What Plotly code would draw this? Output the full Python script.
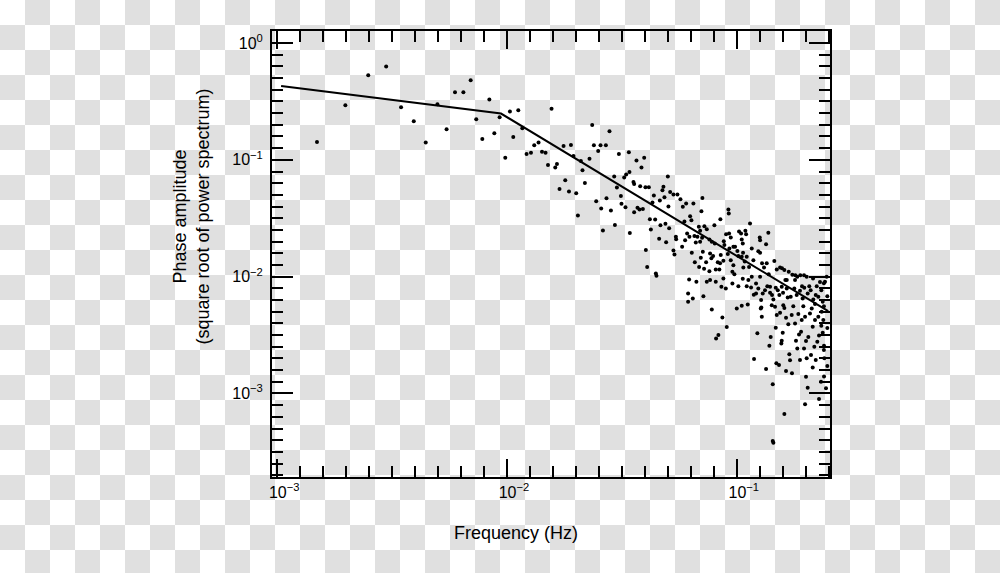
import plotly.graph_objects as go

# ---------------- data ----------------
freq = [
    1.49e-3, 1.98e-3, 2.49e-3, 2.98e-3, 3.46e-3, 3.93e-3, 4.43e-3, 4.98e-3, 5.46e-3, 5.94e-3,
    6.46e-3, 6.95e-3, 7.35e-3, 7.81e-3, 8.38e-3, 8.81e-3, 9.29e-3, 9.83e-3, 0.0103, 0.01065,
    0.0112, 0.01166, 0.01217, 0.01272, 0.01314, 0.01372, 0.0142, 0.01472, 0.01508, 0.01563,
    0.01622, 0.0165, 0.01693, 0.01763, 0.01793, 0.01861, 0.01898, 0.01948, 0.02001, 0.02035,
    0.02097, 0.02131, 0.02183, 0.02286, 0.02349, 0.02389, 0.02445, 0.02494, 0.02553, 0.0257,
    0.02615, 0.02694, 0.0271, 0.02793, 0.02833, 0.02928, 0.02949, 0.03008, 0.03069, 0.03131,
    0.0315, 0.03236, 0.03278, 0.03301, 0.03391, 0.03412, 0.03425, 0.03551, 0.03576, 0.03576,
    0.0366, 0.03697, 0.03772, 0.03799, 0.03848, 0.03903, 0.03954, 0.04005, 0.04021, 0.04074,
    0.04144, 0.04186, 0.04228, 0.04296, 0.04357, 0.04414, 0.04445, 0.04472, 0.04594, 0.04626,
    0.04654, 0.04748, 0.04796, 0.04844, 0.04893, 0.04927, 0.05012, 0.05042, 0.05078, 0.05129,
    0.05301, 0.05301, 0.05355, 0.05431, 0.05447, 0.05518, 0.05686, 0.05783, 0.05823, 0.05918,
    0.05959, 0.0602, 0.0608, 0.06203, 0.06222, 0.06266, 0.06347, 0.06372, 0.06475, 0.06541,
    0.06567, 0.06633, 0.06673, 0.06741, 0.06836, 0.06857,
    0.07087, 0.07016, 0.07229, 0.07405, 0.0799, 0.08485, 0.09194, 0.0923, 0.1142, 0.1372,
    0.06925, 0.07065, 0.07601, 0.07785, 0.08022, 0.0878, 0.08985, 0.09259, 0.09417, 0.1023,
    0.1044, 0.109, 0.1098, 0.1051, 0.1062, 0.1259, 0.1263, 0.1341, 0.06974, 0.07115,
    0.07207, 0.07354, 0.07601, 0.07755, 0.07889, 0.08102, 0.08266, 0.084, 0.08518, 0.08744,
    0.08833, 0.0914, 0.09286, 0.09417, 0.09665, 0.0983, 0.0957, 0.09763, 0.1006, 0.1016,
    0.1051, 0.1065, 0.1083, 0.1105, 0.1131, 0.1162, 0.1181, 0.1241, 0.1263, 0.1288,
    0.1314, 0.135, 0.1377, 0.1457, 0.1493, 0.1543, 0.1574, 0.1611, 0.165, 0.1683,
    0.1745, 0.1798, 0.1834, 0.189, 0.1962, 0.2015, 0.2147, 0.06141, 0.06141, 0.06436,
    0.07157, 0.07405, 0.07654, 0.08102, 0.0857, 0.08744, 0.08958, 0.0957, 0.1016, 0.1062,
    0.1105, 0.1123, 0.1154, 0.1186, 0.1213, 0.1213, 0.1241, 0.1276, 0.1279, 0.1297,
    0.1327, 0.1358, 0.1396, 0.1424, 0.1443, 0.1478, 0.1508, 0.1532, 0.1569, 0.159,
    0.165, 0.1666, 0.1717, 0.178, 0.1823, 0.1884, 0.1936, 0.1967, 0.2035, 0.2097,
    0.2153, 0.2206, 0.2264, 0.2333, 0.2366, 0.2421, 0.2462, 0.07785, 0.08657, 0.09047,
    0.08128, 0.08318, 0.1, 0.1051, 0.1116, 0.1272, 0.1285, 0.1229, 0.1189, 0.1341,
    0.1386, 0.1405, 0.1478, 0.1487, 0.1527, 0.1569, 0.1563, 0.1585, 0.1611, 0.1638,
    0.1693, 0.1705, 0.1739, 0.181, 0.1834, 0.1866, 0.1904, 0.1884, 0.1962, 0.2001,
    0.2048, 0.2015, 0.2104, 0.214, 0.2175, 0.2206, 0.2241, 0.228, 0.2333, 0.2366,
    0.2397, 0.2404, 0.238, 0.2342, 0.2264, 0.219, 0.214, 0.2082, 0.1982, 0.1917,
    0.1853, 0.1793, 0.1734, 0.1676, 0.1638, 0.1543, 0.1493, 0.142, 0.2001, 0.2035,
    0.1982, 0.228, 0.2326, 0.2397, 0.1434, 0.1611, 0.1434, 0.1443,
    0.2394, 0.2477, 0.2394, 0.2477, 0.2445, 0.2477, 0.2394,
    0.1627, 0.1793, 0.1923, 0.2068, 0.2228, 0.2302, 0.219, 0.2119, 0.1948, 0.1762,
    0.1594, 0.1467, 0.1396, 0.1263, 0.1162, 0.1068, 0.09665, 0.08459, 0.07654, 0.06925,
]
amp = [
    0.142, 0.293, 0.529, 0.628, 0.282, 0.214, 0.141, 0.299, 0.183, 0.379,
    0.379, 0.480, 0.223, 0.151, 0.328, 0.169, 0.231, 0.104, 0.259, 0.157,
    0.266, 0.186, 0.112, 0.115, 0.133, 0.141, 0.117, 0.115, 0.0905, 0.273,
    0.0859, 0.0922, 0.0564, 0.131, 0.0669, 0.0536, 0.134, 0.108, 0.0518, 0.0334,
    0.0979, 0.0815, 0.0634, 0.102, 0.199, 0.133, 0.0443, 0.119, 0.133, 0.0383,
    0.0248, 0.133, 0.0469, 0.176, 0.0368, 0.072, 0.0277, 0.0579, 0.112, 0.0491,
    0.042, 0.0706, 0.0393, 0.0749, 0.116, 0.0788, 0.0236, 0.0647, 0.0622, 0.0356,
    0.0986, 0.0388, 0.0376, 0.0595, 0.0859, 0.038, 0.104, 0.0583, 0.0169, 0.0121,
    0.0583, 0.031, 0.0253, 0.0431, 0.0495, 0.0309, 0.01065, 0.01016, 0.0211, 0.0449,
    0.0276, 0.055, 0.0587, 0.0479, 0.0283, 0.0197, 0.072, 0.0399, 0.026, 0.0531,
    0.0505, 0.01675, 0.01548, 0.0219, 0.0209, 0.0505, 0.046, 0.018, 0.0396, 0.0297,
    0.0205, 0.0423, 0.0234, 0.00946, 0.0219, 0.0329, 0.0304, 0.016, 0.0423, 0.0223,
    0.0133, 0.0196, 0.00903, 0.0219, 0.0267, 0.0121,
    0.0472, 0.0363, 0.027, 0.0255, 0.0276, 0.031, 0.0376, 0.0347, 0.0285, 0.0237,
    0.0247, 0.0215, 0.0208, 0.0199, 0.0192, 0.0201, 0.0231, 0.0234, 0.0216, 0.0244,
    0.0234, 0.0247, 0.0231, 0.0208, 0.0192, 0.0216, 0.0205, 0.0189, 0.0145, 0.0163,
    0.0117, 0.0133, 0.0111, 0.0144, 0.015, 0.0115, 0.0133, 0.0115, 0.0153, 0.0137,
    0.0187, 0.0156, 0.0174, 0.0138, 0.018, 0.018, 0.011, 0.0105, 0.0166, 0.015,
    0.0148, 0.016, 0.0135, 0.0148, 0.0121, 0.0174, 0.0138, 0.0165, 0.016, 0.013,
    0.012, 0.013, 0.0105, 0.0136, 0.0115, 0.012, 0.0118, 0.0114, 0.00934, 0.011,
    0.0104, 0.0103, 0.00996, 0.0103, 0.0103, 0.01, 0.00965, 0.00718, 0.00609, 0.00651,
    0.00681, 0.00903, 0.00934, 0.00903, 0.00818, 0.00965, 0.00793, 0.00875, 0.00829, 0.00958,
    0.00829, 0.00934, 0.00809, 0.00699, 0.00875, 0.00718, 0.00793, 0.0063, 0.00545, 0.00718,
    0.00766, 0.00829, 0.00727, 0.00695, 0.00638, 0.00802, 0.00766, 0.00695, 0.00818, 0.00727,
    0.00793, 0.00664, 0.00672, 0.00793, 0.00695, 0.00756, 0.00651, 0.00802, 0.00718, 0.00766,
    0.00638, 0.00695, 0.00672, 0.00766, 0.00609, 0.00903, 0.00996, 0.00524, 0.00448, 0.0037,
    0.00296, 0.00316, 0.00535, 0.00563, 0.00578, 0.00535, 0.00453, 0.00327, 0.00197, 0.00162,
    0.00256, 0.00305, 0.00365, 0.00181, 0.00175, 0.00282, 0.00268, 0.00331, 0.00538, 0.00156,
    0.00217, 0.00192, 0.00149, 0.00282, 0.00243, 0.0032, 0.00337, 0.00193, 0.00243, 0.00281,
    0.00305, 0.002, 0.00213, 0.00167, 0.00251, 0.00193, 0.00277, 0.00314, 0.00379, 0.00331,
    0.00256, 0.002, 0.00425, 0.005, 0.00453, 0.00425, 0.00372, 0.00484, 0.00453, 0.00425,
    0.00478, 0.00398, 0.00469, 0.00392, 0.00444, 0.0049, 0.00469, 0.0057, 0.00139, 0.00112,
    0.000807, 0.000896, 0.00126, 0.0014, 0.0012, 0.000667, 0.000392, 0.000379,
    0.00559, 0.00363, 0.00235, 0.00172, 0.00111, 0.00681, 0.0088,
    0.00934, 0.00934, 0.00829, 0.00829, 0.00829, 0.00899, 0.00582, 0.00535, 0.00559, 0.00559,
    0.0057, 0.00552, 0.00818, 0.00996, 0.00996, 0.012, 0.01254, 0.013, 0.0158, 0.0199,
]

fit_freq = [1.04e-3, 9.42e-3, 0.25]
fit_amp = [0.429, 0.249, 0.00506]

x_tick_vals = [1e-3, 1e-2, 1e-1]
x_tick_text = ["10<sup>\u22123</sup>", "10<sup>\u22122</sup>", "10<sup>\u22121</sup>"]
y_tick_vals = [1, 0.1, 0.01, 0.001]
y_tick_text = ["10<sup>0</sup>", "10<sup>\u22121</sup>", "10<sup>\u22122</sup>", "10<sup>\u22123</sup>"]
x_minor_vals = [10 ** (-3 + k / 10) for k in range(1, 25) if k % 10]
y_minor_vals = [10 ** (-3.7 + k / 10) for k in range(0, 39) if (k - 7) % 10]

x_title = "Frequency (Hz)"
y_title = "Phase amplitude<br>(square root of power spectrum)"

# ---------------- layout geometry ----------------
W, H = 1000, 573
L, R, T, B = 272, 170, 31, 96
PW, PH = W - L - R, H - T - B


def pxx(x):
    return (x - L) / PW


def pxy(y):
    return (H - B - y) / PH


# checkerboard background (transparent-image look)
cells = []
for i in range(W // 25 + 1):
    for j in range(H // 25 + 1):
        if (i + j) % 2 == 1:
            x0, x1 = pxx(25 * i), pxx(25 * i + 25)
            y0, y1 = pxy(25 * j), pxy(25 * j + 25)
            cells.append(f"M{x0:.5f},{y0:.5f}H{x1:.5f}V{y1:.5f}H{x0:.5f}Z")

FONT = "Liberation Sans, Arial, Helvetica, sans-serif"

fig = go.Figure()
fig.add_trace(go.Scatter(x=freq, y=amp, mode="markers",
                         marker=dict(size=4, color="black", line=dict(width=0)),
                         showlegend=False, hoverinfo="x+y"))
fig.add_trace(go.Scatter(x=fit_freq, y=fit_amp, mode="lines",
                         line=dict(color="black", width=2),
                         showlegend=False, hoverinfo="skip"))

axis_common = dict(
    type="log", showgrid=False, zeroline=False,
    showline=True, linecolor="black", linewidth=2, mirror="ticks",
    ticks="inside", tickwidth=2, tickcolor="black",
    tickfont=dict(family=FONT, size=16, color="black"),
    tickmode="array",
)

fig.update_xaxes(**axis_common, range=[-3.0226, -0.5943],
                 tickvals=x_tick_vals, ticktext=x_tick_text, ticklen=18,
                 ticklabelshift=7,
                 minor=dict(tickvals=x_minor_vals, ticks="inside", ticklen=11,
                            tickwidth=2, tickcolor="black", showgrid=False))
fig.update_yaxes(**axis_common, range=[-3.715, 0.1027],
                 tickvals=y_tick_vals, ticktext=y_tick_text, ticklen=21,
                 ticklabelstandoff=4,
                 minor=dict(tickvals=y_minor_vals, ticks="inside", ticklen=11,
                            tickwidth=2, tickcolor="black", showgrid=False))

fig.update_layout(
    width=W, height=H,
    margin=dict(l=L, r=R, t=T, b=B, pad=0),
    paper_bgcolor="white", plot_bgcolor="rgba(0,0,0,0)",
    font=dict(family=FONT, size=18, color="black"),
    shapes=[dict(type="path", xref="paper", yref="paper", layer="below",
                 path="".join(cells), fillcolor="#e0e0e0", line=dict(width=0))],
    annotations=[
        dict(text=x_title, xref="paper", yref="paper", x=pxx(516), y=pxy(533),
             xanchor="center", yanchor="middle", showarrow=False,
             font=dict(family=FONT, size=18, color="black")),
        dict(text=y_title, xref="paper", yref="paper", x=pxx(190.5), y=pxy(217),
             xanchor="center", yanchor="middle", showarrow=False, textangle=-90,
             font=dict(family=FONT, size=18, color="black")),
    ],
)

fig.write_html("out.html")
